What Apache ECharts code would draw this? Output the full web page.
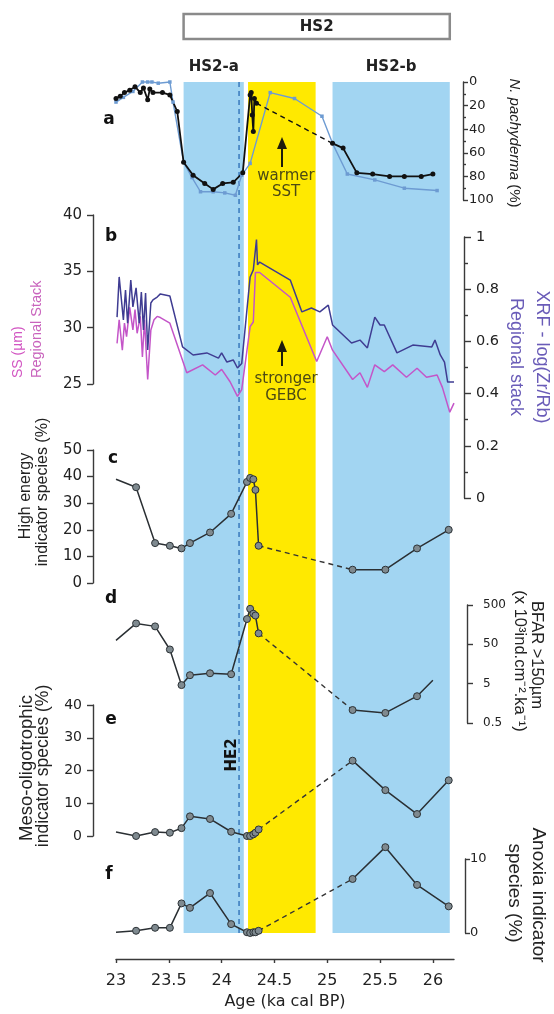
<!DOCTYPE html>
<html><head><meta charset="utf-8">
<script src="https://cdn.jsdelivr.net/npm/echarts@6/dist/echarts.min.js"></script>
<style>html,body{margin:0;padding:0;background:#fff}#c{width:554px;height:1014px}</style>
</head><body><div id="c"></div>
<script>
// ---------- DATA ----------
const xTicks = [23, 23.5, 24, 24.5, 25, 25.5, 26];
const bandStart = [23.64, 24.25, 25.05];
const bandEnd = [24.21, 24.89, 26.16];
const bandType = [0, 1, 0];           // 0 = blue (HS2 phases), 1 = yellow
const phaseLabels = ['HS2-a', 'HS2-b'];
const he2Age = 24.165;
const hs2Span = [23.64, 26.16];

// panel a : N. pachyderma (%)
const aBlackBefore = [[23.00,14],[23.04,12],[23.08,9],[23.13,7],[23.18,4],[23.23,9],[23.26,5],[23.30,15],[23.32,6],[23.35,9],[23.44,9],[23.51,11],[23.58,25],[23.64,68],[23.73,79],[23.84,86],[23.92,91],[24.01,86],[24.11,85],[24.20,77],[24.27,11],[24.28,9],[24.29,28],[24.30,42],[24.31,14],[24.33,18]];
const aBlackAfter = [[25.05,52],[25.15,56],[25.28,77],[25.43,78],[25.59,80],[25.73,80],[25.89,80],[26.00,78]];
const aBlue = [[23.00,17],[23.07,13],[23.16,8],[23.25,0],[23.30,0],[23.34,0],[23.40,1],[23.51,0],[23.54,17],[23.64,68],[23.72,81],[23.80,93],[23.92,93],[24.03,94],[24.13,96],[24.19,79],[24.27,69],[24.46,9],[24.69,14],[24.95,29],[25.05,52],[25.19,78],[25.45,83],[25.73,90],[26.04,92]];

// panel b : XRF log(Zr/Rb) regional stack, SS regional stack
const bXRF = [[23.01,0.693],[23.03,0.847],[23.07,0.682],[23.09,0.797],[23.11,0.670],[23.14,0.835],[23.16,0.732],[23.19,0.805],[23.22,0.670],[23.24,0.789],[23.26,0.644],[23.28,0.785],[23.30,0.567],[23.33,0.747],[23.35,0.759],[23.39,0.770],[23.42,0.782],[23.51,0.774],[23.63,0.579],[23.73,0.548],[23.86,0.556],[23.97,0.536],[24.00,0.556],[24.05,0.521],[24.11,0.529],[24.15,0.498],[24.19,0.515],[24.27,0.847],[24.30,0.874],[24.33,0.99],[24.34,0.893],[24.36,0.904],[24.65,0.835],[24.76,0.713],[24.85,0.728],[24.93,0.713],[25.01,0.739],[25.05,0.663],[25.23,0.594],[25.31,0.605],[25.38,0.575],[25.45,0.693],[25.50,0.663],[25.54,0.663],[25.66,0.556],[25.81,0.586],[25.99,0.579],[26.02,0.605],[26.07,0.548],[26.11,0.521],[26.14,0.444],[26.20,0.444]];
const bSS = [[23.01,28.6],[23.03,30.7],[23.06,28.0],[23.08,30.4],[23.10,29.2],[23.13,31.8],[23.16,29.8],[23.18,31.6],[23.20,29.5],[23.23,31.0],[23.25,27.4],[23.27,30.7],[23.30,25.4],[23.33,29.8],[23.36,30.7],[23.39,31.0],[23.42,30.9],[23.51,30.4],[23.67,26.0],[23.82,26.7],[23.94,25.8],[24.00,26.3],[24.08,25.2],[24.15,23.9],[24.19,24.5],[24.27,30.1],[24.30,30.5],[24.32,34.9],[24.36,34.9],[24.65,32.7],[24.90,27.0],[25.00,29.2],[25.05,28.0],[25.24,25.4],[25.31,26.0],[25.38,24.7],[25.45,26.7],[25.54,26.1],[25.62,26.7],[25.75,25.6],[25.85,26.4],[25.94,25.6],[26.04,25.8],[26.09,24.7],[26.16,22.5],[26.20,23.3]];

// panels c-f : benthic foraminifera samples
const startAge = 23.0;
const agesA = [23.19, 23.37, 23.51, 23.62, 23.70, 23.89, 24.09, 24.24, 24.27, 24.30, 24.32, 24.35];
const agesB = [25.24, 25.55, 25.85, 26.15];
const cStart = 39, cA = [36, 15, 14, 13, 15, 19, 26, 38, 39.5, 39, 35, 14], cB = [5, 5, 13, 20];
const dStart = 63, dA = [170, 143, 37, 4.6, 8.2, 9.2, 8.7, 220, 400, 300, 270, 95], dB = [1.07, 0.9, 2.4], dEnd = [26.0, 6.1];
const eStart = 1.2, eA = [0, 1.2, 1, 2.4, 6, 5.2, 1.3, 0, 0, 0.5, 1, 2], eB = [23, 14, 6.7, 17];
const fStart = 0.1, fA = [0.3, 0.7, 0.7, 4, 3.4, 5.4, 1.2, 0.1, 0, 0.1, 0.1, 0.3], fB = [7.3, 11.6, 6.5, 3.6];

// ---------- LAYOUT / STYLE ----------
const L = 116, W = 338;
const grids = [[0,959],[82,118],[215,169],[237,261],[450,133],[605,118],[705,131],[859,74]];
const BAND_TOP = 82, BAND_BOTTOM = 933;
const BLUE = '#a2d5f2', YELLOW = '#ffe900';
const AX = {color:'#3a3a3a', width:1.4};
const FONT = 'DejaVu Sans';

const chart = echarts.init(document.getElementById('c'), null, {renderer:'canvas'});

function yAx(gi, pos, offset, extra, fs, margin, tickLen) {
  return Object.assign({
    gridIndex: gi, type: 'value', position: pos, offset: offset,
    axisLine: {show: true, onZero: false, lineStyle: AX},
    axisTick: {show: true, length: tickLen, lineStyle: AX},
    axisLabel: {fontSize: fs, margin: margin, color: '#222', fontFamily: FONT},
    splitLine: {show: false}
  }, extra);
}
const xAxes = grids.map((g, i) => ({
  gridIndex: i, type: 'value', min: 23, max: 26.2, show: i === 0,
  axisLine: {show: true, onZero: false, lineStyle: AX},
  axisTick: {show: true, length: 4, lineStyle: AX, customValues: xTicks},
  axisLabel: {fontSize: 16, margin: 14, color: '#222', fontFamily: FONT, customValues: xTicks},
  splitLine: {show: false},
  name: i === 0 ? 'Age (ka cal BP)' : '', nameLocation: 'middle', nameGap: 33,
  nameTextStyle: {fontSize: 16, color: '#222', fontFamily: FONT}
}));
const yAxes = [
  {gridIndex: 0, type: 'value', min: 0, max: 959, inverse: true, show: false},
  yAx(1, 'right', 9, {inverse: true, min: 0, max: 100, interval: 20, minorTick: {show: true, splitNumber: 2, length: 3, lineStyle: AX}}, 13, 6, 5),
  yAx(2, 'left', 23, {min: 25, max: 40, interval: 5}, 15, 11, 6),
  yAx(3, 'right', 10, {min: 0, max: 1, interval: 0.2, minorTick: {show: true, splitNumber: 2, length: 4, lineStyle: AX}}, 14.5, 12, 7),
  yAx(4, 'left', 23, {min: 0, max: 50, interval: 10}, 15, 11, 6),
  yAx(5, 'right', 13, {type: 'log', logBase: 10, min: 0.5, max: 500}, 12, 16, 6),
  yAx(6, 'left', 23, {min: 0, max: 40, interval: 10}, 14, 11, 6),
  yAx(7, 'right', 11, {min: 0, max: 10, interval: 10}, 13, 5, 5)
];
yAxes[5].axisLabel.customValues = [0.5, 5, 50, 500];
yAxes[5].axisTick.customValues = [0.5, 5, 50, 500];

function ln(gi, data, color, width, extra) {
  return Object.assign({
    type: 'line', xAxisIndex: gi, yAxisIndex: gi, data: data, clip: false,
    symbol: 'none', color: color, lineStyle: {color: color, width: width},
    z: 5, silent: true, animation: false
  }, extra);
}
const FORAM = {symbol: 'circle', symbolSize: 7, itemStyle: {color: '#7f8a90', borderColor: '#2c3236', borderWidth: 1}};
function foramSeries(gi, start, ages1, v1, ages2, v2, endPt) {
  const d1 = [{value: [startAge, start], symbol: 'none'}].concat(ages1.map((a, i) => [a, v1[i]]));
  const d2 = v2.map((v, i) => [ages2[i], v]);
  if (endPt) d2.push({value: endPt, symbol: 'none'});
  const dash = [[ages1[ages1.length - 1], v1[v1.length - 1]], [ages2[0], v2[0]]];
  return [
    ln(gi, dash, '#333', 1.4, {lineStyle: {color: '#333', width: 1.4, type: [5, 4]}}),
    ln(gi, d1, '#2a2f33', 1.5, FORAM),
    ln(gi, d2, '#2a2f33', 1.5, FORAM)
  ];
}

const series = [
  // panel a
  ln(1, aBlue, '#6d9bd2', 1.4, {symbol: 'rect', symbolSize: 3.5}),
  ln(1, [aBlackBefore[aBlackBefore.length - 1], aBlackAfter[0]], '#111', 1.4, {lineStyle: {color: '#111', width: 1.4, type: [5, 4]}}),
  ln(1, aBlackBefore, '#111', 1.8, {symbol: 'circle', symbolSize: 5}),
  ln(1, aBlackAfter, '#111', 1.8, {symbol: 'circle', symbolSize: 5}),
  // panel b
  ln(2, bSS, '#c455c8', 1.5),
  ln(3, bXRF, '#3f3c92', 1.5)
].concat(
  foramSeries(4, cStart, agesA, cA, agesB, cB),
  foramSeries(5, dStart, agesA, dA, agesB.slice(0, 3), dB, dEnd),
  foramSeries(6, eStart, agesA, eA, agesB, eB),
  foramSeries(7, fStart, agesA, fA, agesB, fB)
);

// background bands (drawn beneath the curves)
series.push({
  type: 'custom', xAxisIndex: 0, yAxisIndex: 0, z: 1, silent: true,
  data: bandStart.map((s, i) => [s, bandEnd[i], bandType[i]]),
  renderItem: function (params, api) {
    const p0 = api.coord([api.value(0), BAND_TOP]);
    const p1 = api.coord([api.value(1), BAND_BOTTOM]);
    return {type: 'rect', shape: {x: p0[0], y: p0[1], width: p1[0] - p0[0], height: p1[1] - p0[1]},
      style: {fill: api.value(2) === 1 ? YELLOW : BLUE}};
  }
});
// HE2 dashed line
series.push({
  type: 'custom', xAxisIndex: 0, yAxisIndex: 0, z: 2, silent: true,
  data: [[he2Age, 0]],
  renderItem: function (params, api) {
    const p0 = api.coord([api.value(0), BAND_TOP]);
    const p1 = api.coord([api.value(0), BAND_BOTTOM]);
    return {type: 'line', shape: {x1: p0[0], y1: p0[1], x2: p1[0], y2: p1[1]},
      style: {stroke: '#3f7fc0', lineWidth: 1.6, lineDash: [5, 4]}};
  }
});
// HS2 box
series.push({
  type: 'custom', xAxisIndex: 0, yAxisIndex: 0, z: 12, silent: true,
  data: [[hs2Span[0], hs2Span[1]]],
  renderItem: function (params, api) {
    const p0 = api.coord([api.value(0), 14]);
    const p1 = api.coord([api.value(1), 39]);
    return {type: 'group', children: [
      {type: 'rect', shape: {x: p0[0], y: p0[1], width: p1[0] - p0[0], height: p1[1] - p0[1]},
        style: {fill: '#fff', stroke: '#8a8a8a', lineWidth: 2.5}},
      {type: 'text', x: (p0[0] + p1[0]) / 2, y: (p0[1] + p1[1]) / 2 + 1,
        style: {text: 'HS2', fill: '#222', fontSize: 15, fontWeight: 'bold', fontFamily: FONT,
          align: 'center', verticalAlign: 'middle', textAlign: 'center', textVerticalAlign: 'middle'}}
    ]};
  }
});
// HS2-a / HS2-b labels centred over the blue bands
series.push({
  type: 'custom', xAxisIndex: 0, yAxisIndex: 0, z: 12, silent: true,
  data: [[(bandStart[0] + bandEnd[0]) / 2, 0], [(bandStart[2] + bandEnd[2]) / 2, 1]],
  renderItem: function (params, api) {
    const p = api.coord([api.value(0), 67]);
    return {type: 'text', x: p[0], y: p[1],
      style: {text: phaseLabels[api.value(1)], fill: '#222', fontSize: 15, fontWeight: 'bold', fontFamily: FONT,
        align: 'center', verticalAlign: 'middle', textAlign: 'center', textVerticalAlign: 'middle'}};
  }
});

// ---------- TEXT ANNOTATIONS ----------
function txt(x, y, text, size, color, rot, align, extra) {
  return Object.assign({type: 'text', x: x, y: y, rotation: rot || 0, z: 100, silent: true,
    style: {text: text, fill: color, fontSize: size, fontFamily: 'Liberation Sans',
      align: align || 'center', verticalAlign: 'middle', textAlign: align || 'center', textVerticalAlign: 'middle'}}, extra || {});
}
const R = Math.PI / 2;
const elements = [];
[['a',109,120],['b',111,237],['c',113,459],['d',111,599],['e',111,720],['f',109,875]].forEach(p => {
  const t = txt(p[1], p[2], p[0], 17, '#111');
  t.style.fontWeight = 'bold'; t.style.fontFamily = FONT;
  elements.push(t);
});
// right axis names
const pach = txt(514, 143, '{i|N. pachyderma} (%)', 15, '#222', -R);
pach.style.rich = {i: {fontStyle: 'italic', fontSize: 15, fontFamily: 'Liberation Sans', fill: '#222'}};
elements.push(pach);
elements.push(txt(542, 357, 'XRF - log(Zr/Rb)', 18, '#6a5cb8', -R));
elements.push(txt(516, 357, 'Regional stack', 18, '#6a5cb8', -R));
elements.push(txt(537, 655, 'BFAR >150µm', 16.5, '#222', -R));
elements.push(txt(520, 661, '(x 10³ind.cm⁻².ka⁻¹)', 16.5, '#222', -R));
elements.push(txt(538, 895, 'Anoxia indicator', 19, '#222', -R));
elements.push(txt(514, 893, 'species (%)', 19, '#222', -R));
// left axis names
elements.push(txt(18, 378, 'SS (µm)', 14, '#d255c2', R, 'left'));
elements.push(txt(37, 378, 'Regional Stack', 14.5, '#c964bd', R, 'left'));
elements.push(txt(26, 496, 'High energy', 16, '#222', R));
elements.push(txt(43, 492, 'indicator species (%)', 16, '#222', R));
elements.push(txt(27, 768, 'Meso-oligotrophic', 18.5, '#222', R));
elements.push(txt(43, 766, 'indicator species (%)', 17.5, '#222', R));
// HE2
const he = txt(232, 755, 'HE2', 15, '#111', R);
he.style.fontWeight = 'bold'; he.style.fontFamily = FONT;
elements.push(he);
// annotations in the yellow band
['warmer', 'SST'].forEach((s, i) => { const t = txt(286, 176 + i * 16, s, 15, '#4d4a14'); t.style.fontFamily = FONT; elements.push(t); });
['stronger', 'GEBC'].forEach((s, i) => { const t = txt(286, 379 + i * 17, s, 15, '#4d4a14'); t.style.fontFamily = FONT; elements.push(t); });
function arrow(x, top, bottom) {
  elements.push({type: 'polygon', z: 100, silent: true, shape: {points: [[x, top], [x - 5, top + 12], [x + 5, top + 12]]}, style: {fill: '#1e1d0c'}});
  elements.push({type: 'line', z: 100, silent: true, shape: {x1: x, y1: top + 10, x2: x, y2: bottom}, style: {stroke: '#1e1d0c', lineWidth: 2}});
}
arrow(282, 137, 167);
arrow(282, 340, 366);

chart.setOption({
  animation: false,
  backgroundColor: '#fff',
  grid: grids.map(g => ({left: L, width: W, top: g[0], height: g[1], containLabel: false, outerBoundsMode: 'none'})),
  xAxis: xAxes,
  yAxis: yAxes,
  series: series,
  graphic: {elements: elements}
});
</script></body></html>
